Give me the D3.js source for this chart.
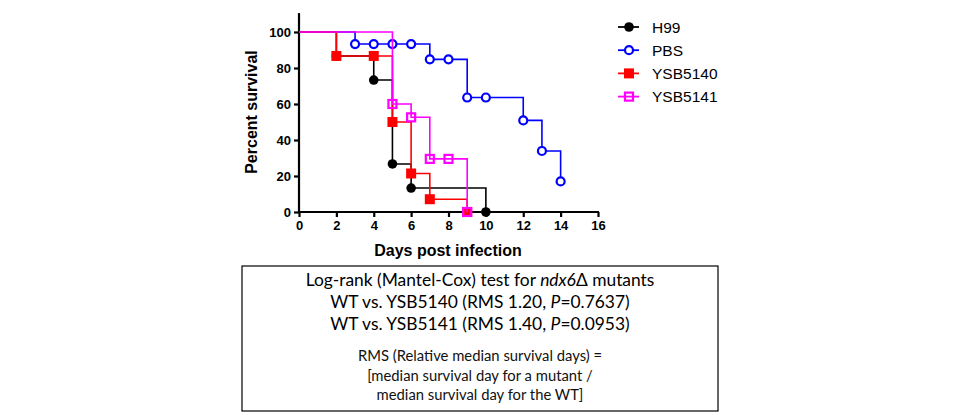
<html>
<head>
<style>
  body { margin: 0; background: #fff; }
  text.ax { font-family: Arial, "Liberation Sans", sans-serif; font-weight: bold; }
  text.leg { font-family: Arial, "Liberation Sans", sans-serif; }
  text.note { font-family: Lato, "Open Sans", sans-serif; }
</style>
</head>
<body>
<svg id="chart"></svg>
<script src="https://cdn.jsdelivr.net/npm/d3@7"></script>
<script>
// survival data (day, percent)
const seriesNames = ["H99", "PBS", "YSB5140", "YSB5141"]
const colors = ["#000000", "#0000ff", "#ff0000", "#ff00ff"]
const h99 = [[0, 100], [2, 86.7], [4, 73.3], [5, 26.7], [6, 13.3], [10, 0]]
const pbs = [[0, 100], [3, 93.3], [4, 93.3], [5, 93.3], [6, 93.3], [7, 84.8], [8, 84.8], [9, 63.6], [10, 63.6], [12, 50.9], [13, 33.9], [14, 17.0]]
const ysb5140 = [[0, 100], [2, 86.7], [4, 86.7], [5, 50], [6, 21.4], [7, 7.1], [9, 0]]
const ysb5141 = [[0, 100], [5, 60], [6, 52.6], [7, 29.5], [8, 29.5], [9, 0]]
const xTicks = [0, 2, 4, 6, 8, 10, 12, 14, 16]
const yTicks = [0, 20, 40, 60, 80, 100]
const noteLines = [
    "WT vs. YSB5140 (RMS 1.20, ",
    "WT vs. YSB5141 (RMS 1.40, "
]
const pValues = ["0.7637", "0.0953"]
const rmsLines = [
    "RMS (Relative median survival days) =",
    "[median survival day for a mutant  /",
    "median survival day for the WT]"
]

const width = 960, height = 415
const svg = d3.select("#chart").attr("width", width).attr("height", height)

let x = d3.scaleLinear().domain([0, 16]).range([299, 598])
let y = d3.scaleLinear().domain([0, 100]).range([212, 32])

// axes
let gx = svg.append("g").attr("transform", `translate(0,${y(0)})`)
    .call(d3.axisBottom(x).tickValues(xTicks).tickSize(5).tickPadding(4))
let gy = svg.append("g").attr("transform", `translate(${x(0)},0)`)
    .call(d3.axisLeft(y).tickValues(yTicks).tickSize(5).tickPadding(3))
gy.select(".domain").attr("d", `M0,${y(0) + 1}V${y(110.5)}`)
gx.select(".domain").attr("d", `M${x(0) - 1},0H${x(16) + 1}`)
svg.selectAll(".domain, .tick line").attr("stroke", "#000").attr("stroke-width", 2.2)
svg.selectAll("g").attr("font-family", null).attr("font-size", null)
svg.selectAll(".tick text").attr("class", "ax").attr("font-size", 13).attr("fill", "#000")

svg.append("text").attr("class", "ax").attr("x", 448).attr("y", 256)
    .attr("text-anchor", "middle").attr("font-size", 16).text("Days post infection")
svg.append("text").attr("class", "ax")
    .attr("transform", `translate(257,112) rotate(-90)`)
    .attr("text-anchor", "middle").attr("font-size", 16).text("Percent survival")

// step curves
const allData = [h99, pbs, ysb5140, ysb5141]
let line = d3.line().x(d => x(d[0])).y(d => y(d[1])).curve(d3.curveStepAfter)

function drawMarker(g, i, cx, cy) {
    if (i == 0) g.append("circle").attr("cx", cx).attr("cy", cy).attr("r", 4.8).attr("fill", colors[i])
    if (i == 1) g.append("circle").attr("cx", cx).attr("cy", cy).attr("r", 4)
        .attr("fill", "#fff").attr("stroke", colors[i]).attr("stroke-width", 2.2)
    if (i == 2) g.append("rect").attr("x", cx - 5).attr("y", cy - 5).attr("width", 10).attr("height", 10).attr("fill", colors[i])
    if (i == 3) g.append("rect").attr("x", cx - 4).attr("y", cy - 4).attr("width", 8).attr("height", 8)
        .attr("fill", "none").attr("stroke", colors[i]).attr("stroke-width", 2.2)
}

allData.forEach((data, i) => {
    let g = svg.append("g")
    g.append("path").datum(data).attr("d", line)
        .attr("fill", "none").attr("stroke", colors[i]).attr("stroke-width", 1.6)
    data.filter(d => d[0] > 0).forEach(d => drawMarker(g, i, x(d[0]), y(d[1])))
})

// legend
let legend = svg.append("g")
seriesNames.forEach((name, i) => {
    let ly = 27 + i * 23.2
    legend.append("line").attr("x1", 618).attr("x2", 639).attr("y1", ly).attr("y2", ly)
        .attr("stroke", colors[i]).attr("stroke-width", 1.8)
    drawMarker(legend, i, 629, ly)
    legend.append("text").attr("class", "leg").attr("x", 652).attr("y", ly + 5.5)
        .attr("font-size", 15.5).attr("fill", "#000").text(name)
})

// text box
svg.append("rect").attr("x", 242).attr("y", 266).attr("width", 476).attr("height", 145)
    .attr("fill", "none").attr("stroke", "#000").attr("stroke-width", 1.2)

let t1 = svg.append("text").attr("class", "note").attr("x", 480).attr("y", 286)
    .attr("text-anchor", "middle").attr("font-size", 17.4)
t1.append("tspan").text("Log-rank (Mantel-Cox) test for ")
t1.append("tspan").attr("font-style", "italic").text("ndx6")
t1.append("tspan").text("Δ mutants")

noteLines.forEach((s, i) => {
    let t = svg.append("text").attr("class", "note").attr("x", 480).attr("y", 308 + i * 22)
        .attr("text-anchor", "middle").attr("font-size", 17.4)
    t.append("tspan").text(s)
    t.append("tspan").attr("font-style", "italic").text("P")
    t.append("tspan").text("=" + pValues[i] + ")")
})

rmsLines.forEach((s, i) => {
    svg.append("text").attr("class", "note").attr("x", 480).attr("y", 361 + i * 19.5)
        .attr("text-anchor", "middle").attr("font-size", 14.8).attr("fill", "#111").text(s)
})
</script>
</body>
</html>
